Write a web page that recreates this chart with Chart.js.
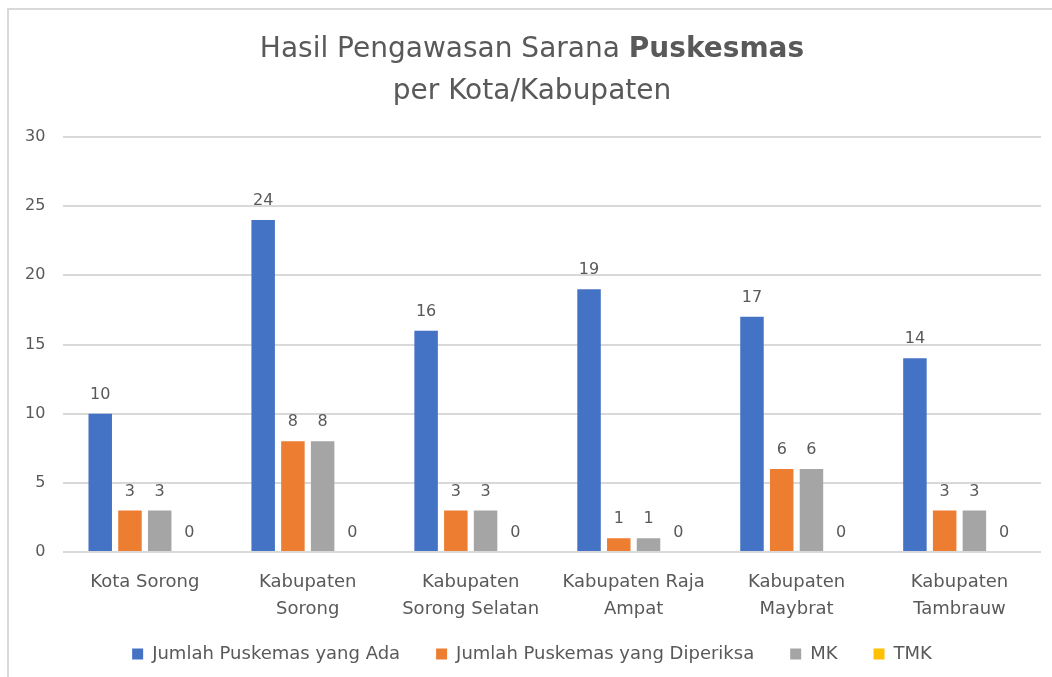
<!DOCTYPE html>
<html>
<head>
<meta charset="utf-8">
<script src="https://cdn.jsdelivr.net/npm/chart.js@4.4.0/dist/chart.umd.min.js"></script>
<style>
  html, body { margin: 0; padding: 0; background: #fff; overflow: hidden; }
  #box {
    position: absolute; left: 7px; top: 8px;
    width: 1058px; height: 673px;
    border-left: 2px solid #d9d9d9; border-top: 2px solid #d9d9d9;
  }
</style>
</head>
<body>
<div id="box"><canvas id="chart" width="1058" height="673"></canvas></div>
<script>
// =====================
// Data
// =====================
const categories = [
  "Kota Sorong",
  ["Kabupaten", "Sorong"],
  ["Kabupaten", "Sorong Selatan"],
  ["Kabupaten Raja", "Ampat"],
  ["Kabupaten", "Maybrat"],
  ["Kabupaten", "Tambrauw"]
];
const seriesNames = ["Jumlah Puskemas yang Ada", "Jumlah Puskemas yang Diperiksa", "MK", "TMK"];
const jumlahAda = [10, 24, 16, 19, 17, 14];
const jumlahDiperiksa = [3, 8, 3, 1, 6, 3];
const mk = [3, 8, 3, 1, 6, 3];
const tmk = [0, 0, 0, 0, 0, 0];
const yTicks = [0, 5, 10, 15, 20, 25, 30];

const colors = ['#4472C4', '#ED7D31', '#A5A5A5', '#FFC000'];
const textColor = '#595959';
const fontFamily = '"DejaVu Sans", sans-serif';

// draws the two-weight title into the space reserved by the normal title block
const mixedTitle = {
  id: 'mixedTitle',
  afterDraw(chart) {
    const ctx = chart.ctx;
    const tb = chart.titleBlock;
    const cx = (tb.left + tb.right) / 2;
    const lh = 42;
    const y1 = tb.top + tb.options.padding.top + lh / 2;
    ctx.save();
    ctx.fillStyle = textColor;
    ctx.textBaseline = 'middle';
    ctx.textAlign = 'left';
    const normal = '28px ' + fontFamily;
    const bold = 'bold 28px ' + fontFamily;
    const p1 = 'Hasil Pengawasan Sarana ';
    const p2 = 'Puskesmas';
    ctx.font = normal;
    const w1 = ctx.measureText(p1).width;
    ctx.font = bold;
    const w2 = ctx.measureText(p2).width;
    let x = cx - (w1 + w2) / 2;
    ctx.font = normal;
    ctx.fillText(p1, x, y1);
    ctx.font = bold;
    ctx.fillText(p2, x + w1, y1);
    ctx.font = normal;
    ctx.textAlign = 'center';
    ctx.fillText('per Kota/Kabupaten', cx, y1 + lh);
    ctx.restore();
  }
};

// value labels above each bar
const valueLabels = {
  id: 'valueLabels',
  afterDatasetsDraw(chart) {
    const ctx = chart.ctx;
    ctx.save();
    ctx.font = '16px ' + fontFamily;
    ctx.fillStyle = textColor;
    ctx.textAlign = 'center';
    ctx.textBaseline = 'bottom';
    chart.data.datasets.forEach((ds, i) => {
      chart.getDatasetMeta(i).data.forEach((bar, j) => {
        ctx.fillText(String(ds.data[j]), bar.x, bar.y - 11);
      });
    });
    ctx.restore();
  }
};

// the legend keeps wide gaps between items but sits closer under the axis labels
const liftLegend = {
  id: 'liftLegend',
  afterLayout(chart) {
    const lg = chart.legend;
    lg.top -= 23;
    lg.height = 70;
    lg.bottom = lg.top + lg.height;
  }
};

const seriesData = [jumlahAda, jumlahDiperiksa, mk, tmk];

new Chart(document.getElementById('chart'), {
  type: 'bar',
  data: {
    labels: categories,
    datasets: seriesNames.map((name, i) => ({
      label: name,
      data: seriesData[i],
      backgroundColor: colors[i],
      borderWidth: 0,
      barPercentage: 0.79,
      categoryPercentage: 0.73
    }))
  },
  options: {
    responsive: false,
    animation: false,
    layout: { padding: { left: 14, right: 26, top: 0, bottom: 10 } },
    plugins: {
      title: {
        display: true,
        text: ['Hasil Pengawasan Sarana Puskesmas', 'per Kota/Kabupaten'],
        color: 'rgba(0,0,0,0)',
        font: { family: fontFamily, size: 28, lineHeight: 1.5 },
        padding: { top: 19, bottom: 24 }
      },
      legend: {
        position: 'bottom',
        maxHeight: 41,
        labels: {
          color: textColor,
          font: { family: fontFamily, size: 18 },
          boxWidth: 11,
          boxHeight: 11,
          padding: 36
        }
      },
      tooltip: { enabled: false }
    },
    scales: {
      x: {
        grid: { display: false },
        border: { display: false },
        ticks: {
          color: textColor,
          font: { family: fontFamily, size: 18, lineHeight: 1.5 },
          maxRotation: 0,
          padding: 9
        }
      },
      y: {
        min: 0,
        max: 30,
        afterBuildTicks(scale) { scale.ticks = yTicks.map(v => ({ value: v })); },
        afterFit(scale) { scale.width -= 16; },
        grid: { color: '#d9d9d9', lineWidth: 2, drawTicks: false },
        border: { display: false },
        ticks: {
          color: textColor,
          font: { family: fontFamily, size: 16 },
          padding: 18
        }
      }
    }
  },
  plugins: [mixedTitle, valueLabels, liftLegend]
});
</script>
</body>
</html>
